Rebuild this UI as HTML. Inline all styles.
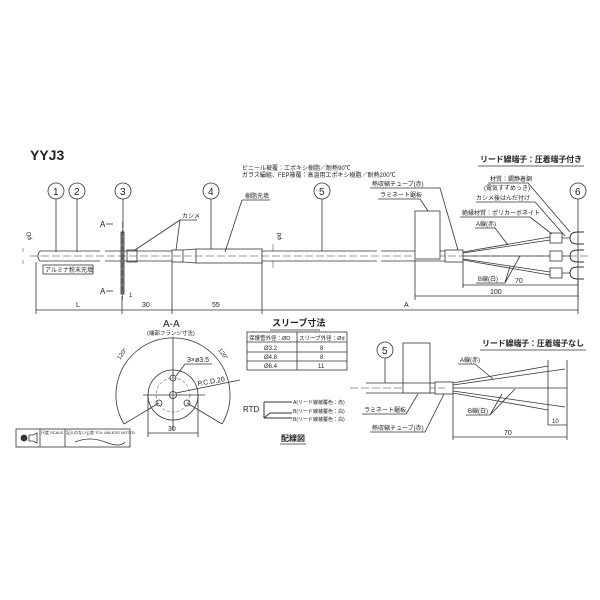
<!DOCTYPE html>
<html><head><meta charset="utf-8"><style>
html,body{margin:0;padding:0;background:#fff}
svg{display:block}
text{font-family:"Liberation Sans","Noto Sans CJK JP",sans-serif;fill:#222}
</style></head><body>
<svg width="600" height="600" viewBox="0 0 600 600" stroke="#333" stroke-width="0.8" fill="none">
<text x="30" y="160" font-size="14" font-weight="bold" stroke="none">YYJ3</text>
<text x="242" y="170" font-size="6" stroke="none">ビニール被覆：エポキシ樹脂／耐熱90℃</text>
<text x="242" y="177" font-size="6" stroke="none">ガラス編組、FEP被覆：高温用エポキシ樹脂／耐熱200℃</text>
<text x="480" y="162" font-size="8" font-weight="bold" stroke="none" textLength="102">リード線端子：圧着端子付き</text>
<line x1="478" y1="166" x2="584" y2="166"/>
<g>
<circle cx="56" cy="191" r="8"/><text x="53" y="195" font-size="10" stroke="none">1</text><line x1="56" y1="199" x2="56" y2="252"/>
<circle cx="77" cy="191" r="8"/><text x="74" y="195" font-size="10" stroke="none">2</text><line x1="77" y1="199" x2="77" y2="252"/>
<circle cx="123" cy="191" r="8"/><text x="120" y="195" font-size="10" stroke="none">3</text><line x1="123" y1="199" x2="123" y2="240"/>
<circle cx="211" cy="191" r="8"/><text x="208" y="195" font-size="10" stroke="none">4</text><line x1="211" y1="199" x2="211" y2="249"/>
<circle cx="322" cy="191" r="8"/><text x="319" y="195" font-size="10" stroke="none">5</text><line x1="322" y1="199" x2="322" y2="251"/>
<circle cx="578" cy="191" r="8"/><text x="575" y="195" font-size="10" stroke="none">6</text><line x1="578" y1="199" x2="578" y2="300"/>
</g>
<path d="M40 251 H100 M40 261 H100 M40 251 Q36 256 40 261 M105 251 H172 M105 261 H172"/>
<line x1="30" y1="256" x2="590" y2="256" stroke-dasharray="8,3" stroke-width="0.5"/>
<rect x="121" y="232" width="3" height="62" fill="#888"/>
<line x1="122.5" y1="222" x2="122.5" y2="300" stroke-dasharray="6,2" stroke-width="0.5"/>
<rect x="127" y="250" width="10" height="12"/>
<rect x="172" y="250" width="11" height="12"/>
<path d="M183 250 L196 249 M183 262 L196 263"/>
<rect x="196" y="249" width="66" height="14"/>
<path d="M262 251 H377 M262 261 H377 M381 251 H445 M381 261 H445"/>
<rect x="415" y="211" width="25" height="48" fill="#fff"/>
<rect x="445" y="250" width="18" height="12"/>
<path d="M463 253 L550 240 M463 256 L550 256 M463 259 L550 272 M463 252 L550 237 M463 260 L550 275"/>
<g fill="#fff"><rect x="550" y="233" width="12" height="10"/><rect x="550" y="251" width="12" height="10"/><rect x="550" y="268" width="12" height="10"/></g>
<path d="M562 238 H570 M562 256 H570 M562 273 H570"/>
<path d="M570 238 q0-6 8-6 h6 M570 238 q0 6 8 6 h6 M570 256 q0-6 8-6 h6 M570 256 q0 6 8 6 h6 M570 273 q0-6 8-6 h6 M570 273 q0 6 8 6 h6" stroke-width="1"/>
<text x="26" y="245" font-size="6" stroke="none" transform="rotate(-90 26 240)">φD</text>
<text x="276" y="245" font-size="6" stroke="none" transform="rotate(-90 276 240)">φd</text>
<path d="M23 248 V252 M23 260 V264 M273 244 V251 M273 261 V268" stroke-width="0.5"/>
<text x="45" y="272" font-size="6" stroke="none">アルミナ粉末充填</text>
<rect x="43" y="265" width="50" height="9"/>
<text x="100" y="227" font-size="8" stroke="none">A</text><line x1="106" y1="224" x2="113" y2="224"/>
<text x="100" y="294" font-size="8" stroke="none">A</text><line x1="106" y1="291" x2="113" y2="291"/>
<text x="182" y="218" font-size="6" stroke="none">カシメ</text><path d="M180 220 H197 M180 220 L135 250 M180 220 L176 250"/>
<text x="245" y="198" font-size="6" stroke="none">樹脂充填</text><path d="M242 200 H270 M242 200 L225 252"/>
<text x="372" y="186" font-size="6" stroke="none">熱収縮チューブ(赤)</text><path d="M370 188 H440 L458 250"/>
<text x="380" y="197" font-size="6" stroke="none">ラミネート鋸板</text><path d="M378 199 H420 L428 211"/>
<text x="490" y="181" font-size="6" stroke="none">材質：錫静着銅</text><text x="484" y="190" font-size="6" stroke="none">(電気すずめっき)</text>
<text x="476" y="200" font-size="6" stroke="none">カシメ後はんだ付け</text>
<text x="462" y="215" font-size="6" stroke="none">絶縁材質：ポリカーボネイト</text>
<text x="476" y="226" font-size="6" stroke="none">A線(赤)</text>
<path d="M488 183 H528 L570 232 M476 202 H535 L565 236 M460 217 H530 L552 234 M475 228 H495 L508 245"/>
<text x="478" y="281" font-size="6" stroke="none">B線(白)</text><path d="M476 283 H505 L510 266 M505 283 L520 256"/>
<path d="M36 262 V314 M122 296 V314 M172 262 V314 M262 262 V314 M578 280 V314 M415 260 V300 M463 262 V288"/>
<line x1="36" y1="310" x2="578" y2="310"/>
<text x="76" y="307" font-size="7" stroke="none">L</text>
<text x="142" y="307" font-size="7" stroke="none">30</text>
<text x="212" y="307" font-size="7" stroke="none">55</text>
<text x="404" y="307" font-size="7" stroke="none">A</text>
<line x1="415" y1="296" x2="578" y2="296"/><text x="490" y="294" font-size="7" stroke="none">100</text>
<line x1="463" y1="285" x2="578" y2="285"/><text x="515" y="283" font-size="7" stroke="none">70</text>
<text x="129" y="297" font-size="6" stroke="none">1</text>
<text x="163" y="327" font-size="10" stroke="none">A-A</text>
<text x="147" y="335" font-size="5.5" stroke="none">(端部フランジ寸法)</text>
<path d="M124 424 A57 57 0 1 1 222 424"/>
<line x1="173" y1="337" x2="173" y2="430"/><line x1="143" y1="395" x2="205" y2="395"/>
<circle cx="173" cy="395" r="25"/><circle cx="173" cy="395" r="17" stroke-dasharray="3,2" stroke-width="0.5"/>
<circle cx="173" cy="395" r="3.5"/><circle cx="173" cy="378" r="3"/><circle cx="159" cy="403" r="3"/><circle cx="187" cy="403" r="3"/>
<path d="M159 403 L124 424 M187 403 L222 424 M176 376 L185 364 H212 M176 393 L240 380"/>
<text x="187" y="362" font-size="7" stroke="none">3×ø3.5</text>
<text x="198" y="386" font-size="7" stroke="none" transform="rotate(-10 198 386)">P.C.D.20</text>
<text x="120" y="360" font-size="6" stroke="none" transform="rotate(-55 120 360)">120°</text>
<text x="218" y="350" font-size="6" stroke="none" transform="rotate(55 218 350)">120°</text>
<path d="M148 395 V437 M198 395 V437 M148 433 H198"/><text x="168" y="431" font-size="7" stroke="none">30</text>
<rect x="16" y="429" width="114" height="18"/><line x1="40" y1="429" x2="40" y2="447"/><line x1="65" y1="429" x2="65" y2="447"/>
<circle cx="24" cy="438" r="3" fill="#333"/><path d="M29 435 H33 L37 433 V443 L33 441 H29 Z"/>
<text x="41" y="434" font-size="4" stroke="none">尺度 SCALE</text><text x="66" y="434" font-size="4" stroke="none">記入のない公差 TOL UNLESS NOTED</text>
<path d="M75 442 q15 -6 30 0 t20 0"/>
<text x="272" y="326" font-size="9" font-weight="bold" stroke="none">スリーブ寸法</text><line x1="270" y1="330" x2="320" y2="330"/>
<rect x="247" y="332" width="100" height="38"/>
<path d="M297 332 V370 M247 342 H347 M247 352 H347 M247 361 H347"/>
<text x="249" y="340" font-size="5.5" stroke="none">保護管外径：ØD</text><text x="299" y="340" font-size="5.5" stroke="none">スリーブ外径：Ød</text>
<text x="264" y="350" font-size="6" stroke="none">Ø3.2</text><text x="320" y="350" font-size="6" stroke="none">8</text>
<text x="264" y="359" font-size="6" stroke="none">Ø4.8</text><text x="320" y="359" font-size="6" stroke="none">8</text>
<text x="264" y="368" font-size="6" stroke="none">Ø6.4</text><text x="318" y="368" font-size="6" stroke="none">11</text>
<text x="243" y="412" font-size="8" stroke="none">RTD</text>
<path d="M264 402 V418 M264 402 H292 M264 418 L270 413 H292 M264 418 H292" stroke-width="1"/>
<text x="293" y="404" font-size="5" stroke="none">A(リード線被覆色：赤)</text>
<text x="293" y="413" font-size="5" stroke="none">B(リード線被覆色：白)</text>
<text x="293" y="421" font-size="5" stroke="none">B(リード線被覆色：白)</text>
<text x="281" y="441" font-size="8" font-weight="bold" stroke="none">配線図</text><line x1="280" y1="444" x2="306" y2="444"/>
<text x="482" y="346" font-size="8" font-weight="bold" stroke="none" textLength="102">リード線端子：圧着端子なし</text><line x1="480" y1="350" x2="586" y2="350"/>
<circle cx="385" cy="350" r="8"/><text x="382" y="354" font-size="10" stroke="none">5</text><line x1="385" y1="358" x2="385" y2="383"/>
<line x1="350" y1="388" x2="445" y2="388" stroke-dasharray="8,3" stroke-width="0.5"/>
<path d="M366 383 H435 M366 393 H435"/>
<rect x="403" y="343" width="27" height="50" fill="#fff"/>
<line x1="403" y1="383" x2="430" y2="383"/>
<rect x="435" y="382" width="18" height="12"/>
<path d="M453 385 L565 369 M453 383 L548 366 M453 388 L567 388 M453 391 L565 407 M453 393 L548 410"/>
<path d="M548 360 V425 M567 360 V440 M548 425 H567 M453 394 V440 M453 437 H567"/>
<text x="552" y="423" font-size="6" stroke="none">10</text><text x="504" y="435" font-size="7" stroke="none">70</text>
<text x="460" y="362" font-size="6" stroke="none">A線(赤)</text><path d="M458 364 H475 L493 379"/>
<text x="468" y="413" font-size="6" stroke="none">B線(白)</text><path d="M466 415 H490 L502 394 M490 415 L515 389"/>
<text x="364" y="412" font-size="6" stroke="none">ラミネート鋸板</text><path d="M362 414 H406 L418 394"/>
<text x="372" y="430" font-size="6" stroke="none">熱収縮チューブ(赤)</text><path d="M370 432 H425 L444 394"/>
</svg>
</body></html>
